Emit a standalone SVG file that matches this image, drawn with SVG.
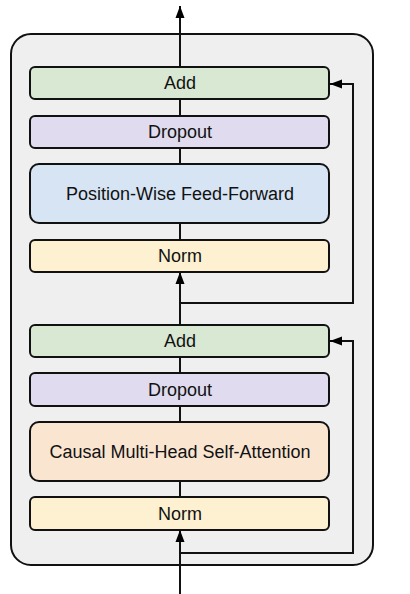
<svg xmlns="http://www.w3.org/2000/svg" width="410" height="594" viewBox="0 0 410 594">
<defs>
<marker id="ah" viewBox="0 0 12 10" refX="12" refY="5" markerWidth="12" markerHeight="10" markerUnits="userSpaceOnUse" orient="auto">
<path d="M0,0.5 L12,5 L0,9.5 Z" fill="#000"/>
</marker>
</defs>
<style>
.box{stroke:#111;stroke-width:2}
.lbl{font-family:"Liberation Sans",Arial,sans-serif;font-size:18px;fill:#111;text-anchor:middle;dominant-baseline:central}
.ln{fill:none;stroke:#111;stroke-width:2}
.add{fill:#d9e8d3}
.drop{fill:#e0dbee}
.ff{fill:#d6e4f4}
.norm{fill:#fdf1d1}
.att{fill:#fae5d1}
</style>
<rect id="container" x="11" y="34" width="362" height="531" rx="20" fill="#efefef" stroke="#111" stroke-width="2"/>
<g id="connectors">
<line class="ln" x1="180" y1="67" x2="180" y2="6" marker-end="url(#ah)"/>
<line class="ln" x1="180" y1="99" x2="180" y2="116"/>
<line class="ln" x1="180" y1="148" x2="180" y2="164"/>
<line class="ln" x1="180" y1="223" x2="180" y2="240"/>
<line class="ln" x1="180" y1="324" x2="180" y2="272" marker-end="url(#ah)"/>
<polyline class="ln" points="180,303 353,303 353,84 330,84" marker-end="url(#ah)"/>
<line class="ln" x1="180" y1="357" x2="180" y2="373"/>
<line class="ln" x1="180" y1="406" x2="180" y2="422"/>
<line class="ln" x1="180" y1="481" x2="180" y2="497"/>
<line class="ln" x1="180" y1="594" x2="180" y2="530" marker-end="url(#ah)"/>
<polyline class="ln" points="180,553 353,553 353,341 330,341" marker-end="url(#ah)"/>
</g>
<g id="add2"><rect class="box add" x="30" y="67" width="299" height="32" rx="5"/><text class="lbl" x="180" y="83">Add</text></g>
<g id="dropout2"><rect class="box drop" x="30" y="116" width="299" height="32" rx="5"/><text class="lbl" x="180" y="132">Dropout</text></g>
<g id="ffn"><rect class="box ff" x="30" y="164" width="299" height="59" rx="9"/><text class="lbl" x="180" y="193.5">Position-Wise Feed-Forward</text></g>
<g id="norm2"><rect class="box norm" x="30" y="240" width="299" height="32" rx="5"/><text class="lbl" x="180" y="256">Norm</text></g>
<g id="add1"><rect class="box add" x="30" y="325" width="299" height="32" rx="5"/><text class="lbl" x="180" y="341">Add</text></g>
<g id="dropout1"><rect class="box drop" x="30" y="373" width="299" height="33" rx="5"/><text class="lbl" x="180" y="389.5">Dropout</text></g>
<g id="attn"><rect class="box att" x="30" y="422" width="299" height="59" rx="9"/><text class="lbl" x="180" y="451.5">Causal Multi-Head Self-Attention</text></g>
<g id="norm1"><rect class="box norm" x="30" y="497" width="299" height="33" rx="5"/><text class="lbl" x="180" y="513.5">Norm</text></g>
</svg>
